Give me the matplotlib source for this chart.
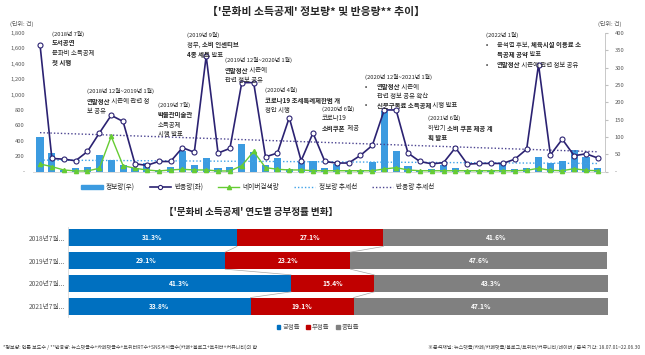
import numpy as np
import matplotlib
matplotlib.use("Agg")
import matplotlib.pyplot as plt
from matplotlib.patches import Patch
from matplotlib.lines import Line2D

plt.rcParams['font.family'] = ['Noto Sans CJK KR', 'DejaVu Sans']

# ---- data: monthly, 2018-07 .. 2022-06 ----
info = [100, 53, 5, 9, 14, 48, 33, 19, 9, 24, 4, 14, 59, 19, 40, 11,
        14, 80, 55, 19, 38, 6, 28, 31, 9, 22, 3, 3, 28, 176, 60, 16,
        3, 6, 19, 9, 3, 3, 4, 24, 7, 11, 41, 24, 31, 63, 42, 9]
react = [1650, 170, 160, 140, 260, 500, 730, 650, 100, 80, 130, 130, 310, 250, 1500, 240,
         300, 1155, 1155, 190, 240, 700, 140, 500, 130, 110, 110, 210, 340, 800, 800, 240,
         130, 100, 115, 310, 95, 105, 105, 105, 160, 290, 1390, 215, 420, 205, 230, 175]
naver = [98, 63, 20, 7, 7, 42, 456, 76, 42, 20, 7, 20, 29, 20, 20, 7,
         7, 76, 260, 50, 29, 20, 20, 10, 10, 10, 10, 10, 10, 33, 50, 20,
         10, 10, 10, 10, 10, 10, 10, 10, 10, 15, 42, 15, 10, 37, 15, 10]

years = ['2018년7월...', '2019년7월...', '2020년7월...', '2021년7월...']
pos_rate = [31.3, 29.1, 41.3, 33.8]
neg_rate = [27.1, 23.2, 15.4, 19.1]
neu_rate = [41.6, 47.6, 43.3, 47.1]

W, H = 645, 355
fig = plt.figure(figsize=(W / 100, H / 100), dpi=100)
r = fig.canvas.get_renderer()

C_BAR = '#3C9BE0'
C_LINE = '#2B2272'
C_GREEN = '#66CC33'
C_TXT = '#262626'
C_TICK = '#595959'


def px(x, y):
    return x / W, 1 - y / H


def runs(x, y, parts, size=4.6):
    cur = x
    for s, b in parts:
        t = fig.text(*px(cur, y), s, fontsize=size, color=C_TXT, va='center', ha='left',
                     fontweight='bold' if b else 'normal')
        cur += t.get_window_extent(renderer=r).width


# ---- top chart ----
n = len(react)
x = np.arange(n)
ax = fig.add_axes([33 / W, 1 - 171.5 / H, 572 / W, 138.5 / H])
ax2 = ax.twinx()
ax.set_zorder(ax2.get_zorder() + 1)
ax.patch.set_visible(False)

ax2.bar(x, info, width=0.6, color=C_BAR, zorder=1)
ax2.set_ylim(0, 400)
ax2.set_yticks(range(0, 401, 50))
ax2.set_yticklabels(['-'] + [str(v) for v in range(50, 401, 50)])

ax.plot(x, react, color=C_LINE, lw=1.2, marker='o', ms=3.6, mfc='white', mec=C_LINE, mew=0.8,
        zorder=5, clip_on=False)
ax.plot(x, naver, color=C_GREEN, lw=1.0, marker='^', ms=3, zorder=4, clip_on=False)

# trend lines
p1 = np.polyfit(x, react, 1)
p2 = np.polyfit(x, info, 1)
ax.plot(x, np.polyval(p1, x), color='#4B4390', ls=(0, (1, 1.5)), lw=1.0, zorder=3)
ax2.plot(x, np.polyval(p2, x), color='#3FA2E8', ls=(0, (1, 1.5)), lw=1.0, zorder=2)

ax.set_xlim(-0.59, 47.6)
ax.set_ylim(0, 1800)
ax.set_yticks(range(0, 1801, 200))
ax.set_yticklabels(['-'] + [f'{v:,}' for v in range(200, 1801, 200)])
ax.set_xticks([])
for a in (ax, ax2):
    a.tick_params(labelsize=4.2, colors=C_TICK, length=0, pad=6)
    for s in ('top', 'left', 'right'):
        a.spines[s].set_visible(False)
    a.spines['bottom'].set_color('#D9D9D9')
    a.spines['bottom'].set_linewidth(0.6)
ax2.spines['right'].set_visible(True)
ax2.spines['right'].set_color('#BFBFBF')
ax2.spines['right'].set_linewidth(0.6)
ax2.tick_params(axis='y', length=2, color='#BFBFBF', pad=5)

fig.text(*px(316, 12), "【'문화비 소득공제' 정보량* 및 반응량** 추이】", fontsize=7.8,
         fontweight='bold', color=C_TXT, ha='center', va='center')
fig.text(*px(10, 24), '(단위: 건)', fontsize=4.3, color=C_TICK, va='center')
fig.text(*px(598, 24), '(단위: 건)', fontsize=4.3, color=C_TICK, va='center')

# annotations
runs(52, 34, [('(2018년 7월)', False)], 4.2)
runs(52, 43, [('도서공연', True)])
runs(52, 53, [('문화비 소득공제', False)])
runs(52, 62, [('첫 시행', True)])

runs(87, 91, [('(2018년 12월~2019년 1월)', False)], 4.2)
runs(87, 101, [('연말정산', True), (' 시즌에 관련 정', False)])
runs(87, 111, [('보 공유', False)])

runs(158, 105, [('(2019년 7월)', False)], 4.2)
runs(158, 115, [('박물관미술관', True)])
runs(158, 125, [('소득공제', False)])
runs(158, 134, [('시행 발표', False)])

runs(187, 35, [('(2019년 9월)', False)], 4.2)
runs(187, 45, [('정부, ', False), ('소비 인센티브', True)])
runs(187, 55, [('4종 세트', True), (' 발표', False)])

runs(225, 60, [('(2019년 12월~2020년 1월)', False)], 4.2)
runs(225, 70, [('연말정산', True), (' 시즌에', False)])
runs(225, 80, [('관련 정보 공유', False)])

runs(265, 90, [('(2020년 4월)', False)], 4.2)
runs(265, 100, [('코로나19 조세특례제한법 개', True)])
runs(265, 110, [('정안 시행', False)])

runs(322, 109, [('(2020년 6월)', False)], 4.2)
runs(322, 118, [('코로나19', False)])
runs(322, 128, [('소비쿠폰', True), (' 제공', False)])

runs(365, 77, [('(2020년 12월~2021년 1월)', False)], 4.2)
runs(365, 87, [('•', False)])
runs(377, 87, [('연말정산', True), (' 시즌에', False)])
runs(377, 96, [('관련 정보 공유 확산', False)])
runs(365, 105, [('•', False)])
runs(377, 105, [('신문구독료 소득공제', True), (' 시행 발표', False)])

runs(428, 118, [('(2021년 6월)', False)], 4.2)
runs(428, 128, [('하반기 ', False), ('소비 쿠폰 제공 계', True)])
runs(428, 138, [('획 발표', True)])

runs(486, 35, [('(2022년 1월)', False)], 4.2)
runs(486, 45, [('•', False)])
runs(497, 45, [('윤석열 후보, ', False), ('체육시설 이용료 소', True)])
runs(497, 54, [('득공제 공약', True), (' 발표', False)])
runs(486, 65, [('•', False)])
runs(497, 65, [('연말정산', True), (' 시즌에 관련 정보 공유', False)])

handles = [
    Patch(color=C_BAR),
    Line2D([], [], color=C_LINE, lw=1.2, marker='o', ms=3, mfc='white', mec=C_LINE, mew=0.8),
    Line2D([], [], color=C_GREEN, lw=1.0, marker='^', ms=3),
    Line2D([], [], color='#3FA2E8', ls=(0, (1, 1.5)), lw=1.0),
    Line2D([], [], color='#4B4390', ls=(0, (1, 1.5)), lw=1.0),
]
labels = ['정보량(우)', '반응량(좌)', '네이버검색량', '정보량 추세선', '반응량 추세선']
fig.legend(handles, labels, loc='center', bbox_to_anchor=px(258, 187), ncol=5, frameon=False,
           fontsize=4.8, handlelength=3.2, handleheight=0.6, columnspacing=2.2, handletextpad=0.5,
           labelcolor=C_TXT)

# ---- bottom chart ----
fig.text(*px(251, 212), "【'문화비 소득공제' 연도별 긍부정률 변화】", fontsize=6.9,
         fontweight='bold', color=C_TXT, ha='center', va='center')

bx = fig.add_axes([68 / W, 1 - 317.4 / H, 540 / W, 90.8 / H])
yy = np.arange(len(years))
h = 0.75
pos = np.array(pos_rate)
neg = np.array(neg_rate)
neu = np.array(neu_rate)
bx.barh(yy, pos, height=h, color='#0070C0')
bx.barh(yy, neg, left=pos, height=h, color='#C00000')
bx.barh(yy, neu, left=pos + neg, height=h, color='#808080')
for i in range(len(years)):
    bx.text(pos[i] / 2, yy[i], f'{pos[i]:.1f}%', color='white', fontsize=4.8, fontweight='bold',
            ha='center', va='center')
    bx.text(pos[i] + neg[i] / 2, yy[i], f'{neg[i]:.1f}%', color='white', fontsize=4.8,
            fontweight='bold', ha='center', va='center')
    bx.text(pos[i] + neg[i] + neu[i] / 2, yy[i], f'{neu[i]:.1f}%', color='white', fontsize=4.8,
            fontweight='bold', ha='center', va='center')
# series lines
for c in (pos, pos + neg):
    for i in range(len(years) - 1):
        bx.plot([c[i], c[i + 1]], [yy[i] + h / 2, yy[i + 1] - h / 2], color='#A6A6A6', lw=0.5)
bx.set_xlim(0, 100)
bx.set_ylim(3.5, -0.5)
bx.set_yticks(yy)
bx.set_yticklabels(years)
bx.set_xticks([])
bx.tick_params(labelsize=4.8, colors=C_TICK, length=0, pad=2)
for s in ('top', 'right', 'bottom'):
    bx.spines[s].set_visible(False)
bx.spines['left'].set_color('#D9D9D9')
bx.spines['left'].set_linewidth(0.6)

fig.legend([Patch(color='#0070C0'), Patch(color='#C00000'), Patch(color='#808080')],
           ['긍정률', '부정률', '중립률'], loc='center', bbox_to_anchor=px(318, 327), ncol=3,
           frameon=False, fontsize=4.6, handlelength=0.6, handleheight=0.6, columnspacing=1.0,
           handletextpad=0.3, labelcolor=C_TICK)

fig.text(*px(3, 347), '*정보량: 언론 보도수 / **반응량: 뉴스댓글수+카페댓글수+트위터RT수+SNS게시글수(카페+블로그+트위터+커뮤니티)의 합',
         fontsize=3.6, color='#404040', va='center')
fig.text(*px(640, 347), '※분석채널: 뉴스댓글/카페/카페댓글/블로그/트위터/커뮤니티/네이버 / 분석 기간: 18.07.01~22.06.30',
         fontsize=3.6, color='#404040', va='center', ha='right')

fig.savefig('out.png', dpi=100)
